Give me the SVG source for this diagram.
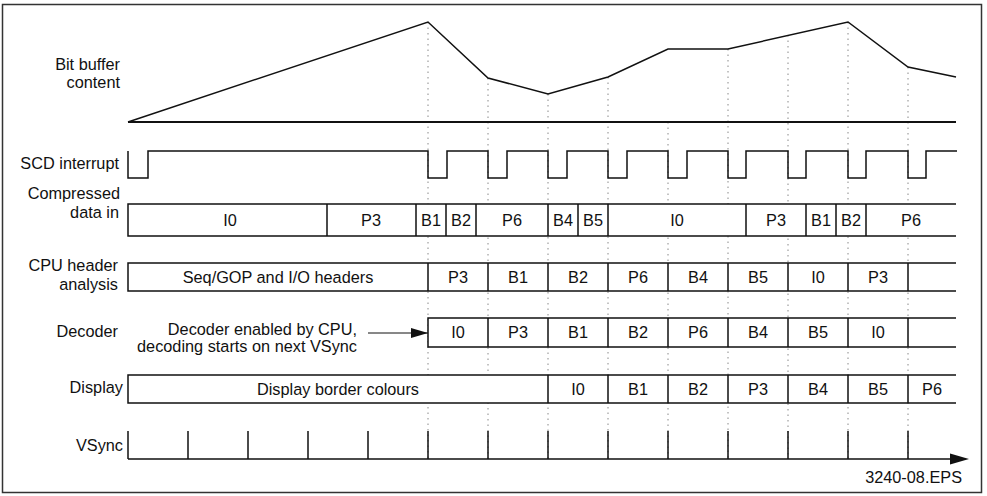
<svg xmlns="http://www.w3.org/2000/svg" width="987" height="496" viewBox="0 0 987 496">
<style>
text{font-family:"Liberation Sans",Arial,Helvetica,sans-serif;font-size:16.3px;fill:#111}
.lbl{text-anchor:end}
.c{text-anchor:middle}
.ln{fill:none;stroke:#111;stroke-width:1.5}
.box{fill:#fff;stroke:none}
.grid{fill:none;stroke:#888;stroke-width:1;stroke-dasharray:1.5 4}
</style>
<defs>
<marker id="ah" viewBox="0 0 10 10" refX="10" refY="5" markerWidth="17" markerHeight="10" markerUnits="userSpaceOnUse" orient="auto" preserveAspectRatio="none">
<path d="M0,0 L10,5 L0,10 Z" fill="#111"/>
</marker>
</defs>
<rect x="2.5" y="4.5" width="979" height="488" fill="#fff" stroke="#333" stroke-width="1.5"/>

<g id="connectors">
<path class="grid" d="M428,22V459 M488,78V459 M548,94V459 M608,77V459 M668,122V459 M728,49V459 M788,35V459 M848,22V459 M908,67V459"/>
<line x1="368" y1="333" x2="428" y2="333" stroke="#111" stroke-width="1" marker-end="url(#ah)"/>
</g>

<g id="bitbuffer">
<text class="lbl" x="120" y="70">Bit buffer</text>
<text class="lbl" x="120" y="88">content</text>
<line x1="128" y1="122" x2="956" y2="122" stroke="#111" stroke-width="2"/>
<polyline class="ln" stroke-width="2" points="128,122 428,22 488,78 548,94 608,77 668,49 728,49 848,22 908,67 956,77"/>
</g>

<g id="scd">
<text class="lbl" x="119" y="169">SCD interrupt</text>
<path class="ln" d="M128,151V178H148V151H428V178H447V151H488V178H507V151H548V178H567V151H608V178H627V151H668V178H687V151H728V178H746V151H788V178H806V151H848V178H866V151H908V178H926V151H957"/>
</g>

<g id="compressed">
<text class="lbl" x="120" y="199">Compressed</text>
<text class="lbl" x="119" y="218">data in</text>
<rect class="box" x="128" y="204" width="828" height="32"/>
<path class="ln" d="M956,204H128V236H956 M327,204V236 M416,204V236 M446,204V236 M476,204V236 M548,204V236 M578,204V236 M608,204V236 M746,204V236 M806,204V236 M836,204V236 M866,204V236"/>
<text class="c" x="230" y="225.5">I0</text>
<text class="c" x="371" y="225.5">P3</text>
<text class="c" x="431" y="225.5">B1</text>
<text class="c" x="461" y="225.5">B2</text>
<text class="c" x="512" y="225.5">P6</text>
<text class="c" x="563" y="225.5">B4</text>
<text class="c" x="593" y="225.5">B5</text>
<text class="c" x="677" y="225.5">I0</text>
<text class="c" x="776" y="225.5">P3</text>
<text class="c" x="821" y="225.5">B1</text>
<text class="c" x="851" y="225.5">B2</text>
<text class="c" x="911" y="225.5">P6</text>
</g>

<g id="cpu">
<text class="lbl" x="118" y="271">CPU header</text>
<text class="lbl" x="118" y="290">analysis</text>
<rect class="box" x="128" y="263" width="828" height="28"/>
<path class="ln" d="M956,263H128V291H956 M428,263V291 M488,263V291 M548,263V291 M608,263V291 M668,263V291 M728,263V291 M788,263V291 M848,263V291 M908,263V291"/>
<text class="c" x="278" y="282.5">Seq/GOP and I/O headers</text>
<text class="c" x="458" y="282.5">P3</text>
<text class="c" x="518" y="282.5">B1</text>
<text class="c" x="578" y="282.5">B2</text>
<text class="c" x="638" y="282.5">P6</text>
<text class="c" x="698" y="282.5">B4</text>
<text class="c" x="758" y="282.5">B5</text>
<text class="c" x="818" y="282.5">I0</text>
<text class="c" x="878" y="282.5">P3</text>
</g>

<g id="decoder">
<text class="lbl" x="118" y="337">Decoder</text>
<text class="lbl" x="357" y="335">Decoder enabled by CPU,</text>
<text class="lbl" x="357" y="352">decoding starts on next VSync</text>
<rect class="box" x="428" y="318" width="528" height="29"/>
<path class="ln" d="M956,318H428V347H956 M488,318V347 M548,318V347 M608,318V347 M668,318V347 M728,318V347 M788,318V347 M848,318V347 M908,318V347"/>
<text class="c" x="458" y="338">I0</text>
<text class="c" x="518" y="338">P3</text>
<text class="c" x="578" y="338">B1</text>
<text class="c" x="638" y="338">B2</text>
<text class="c" x="698" y="338">P6</text>
<text class="c" x="758" y="338">B4</text>
<text class="c" x="818" y="338">B5</text>
<text class="c" x="878" y="338">I0</text>
</g>

<g id="display">
<text class="lbl" x="123" y="393">Display</text>
<rect class="box" x="128" y="375" width="828" height="28"/>
<path class="ln" d="M956,375H128V403H956 M548,375V403 M608,375V403 M668,375V403 M728,375V403 M788,375V403 M848,375V403 M908,375V403"/>
<text class="c" x="338" y="394.5">Display border colours</text>
<text class="c" x="578" y="394.5">I0</text>
<text class="c" x="638" y="394.5">B1</text>
<text class="c" x="698" y="394.5">B2</text>
<text class="c" x="758" y="394.5">P3</text>
<text class="c" x="818" y="394.5">B4</text>
<text class="c" x="878" y="394.5">B5</text>
<text class="c" x="932" y="394.5">P6</text>
</g>

<g id="vsync">
<text class="lbl" x="123" y="451">VSync</text>
<path class="ln" d="M128,431V459 M188,431V459 M248,431V459 M308,431V459 M368,431V459 M428,431V459 M488,431V459 M548,431V459 M608,431V459 M668,431V459 M728,431V459 M788,431V459 M848,431V459 M908,431V459 M128,459H952"/>
<path d="M950,453.5 L969,459 L950,464.5 Z" fill="#111"/>
</g>

<text x="962" y="483" style="text-anchor:end">3240-08.EPS</text>
</svg>
